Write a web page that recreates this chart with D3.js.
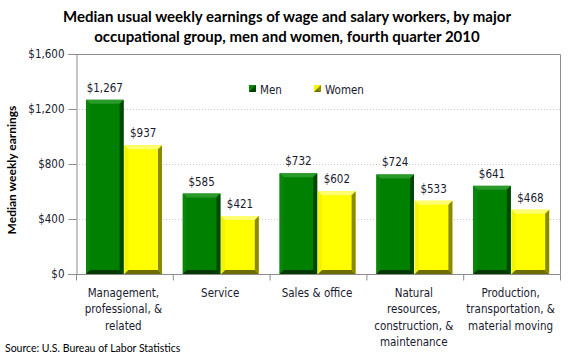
<!DOCTYPE html>
<html><head><meta charset="utf-8">
<script src="https://cdn.jsdelivr.net/npm/d3@7"></script>
<style>body{margin:0;background:#fff}svg{display:block}</style>
</head><body>
<svg id="c" width="580" height="360"></svg>
<script>
const categories = [
  ["Management,", "professional, &", "related"],
  ["Service"],
  ["Sales & office"],
  ["Natural", "resources,", "construction, &", "maintenance"],
  ["Production,", "transportation, &", "material moving"]
];
const seriesNames = ["Men", "Women"];
const men = [1267, 585, 732, 724, 641];
const women = [937, 421, 602, 533, 468];
const yTicks = [0, 400, 800, 1200, 1600];

const svg = d3.select("#c");
const L = 76, R = 560, T = 54, B = 274;
const x = d3.scaleBand().domain(d3.range(categories.length)).range([L, R]).paddingInner(0).paddingOuter(0);
const y = d3.scaleLinear().domain([0, 1600]).range([B, T]);
const bandInner = d3.scaleBand().domain([0, 1]).range([0, x.bandwidth()]).paddingInner(0.0).paddingOuter(0.26);
const fmt = v => "$" + d3.format(",")(v);
const labelFont = "'DejaVu Sans Condensed', 'DejaVu Sans', sans-serif";
const titleFont = "Lato, 'Open Sans', sans-serif";

// title
svg.append("text").attr("x", 287).attr("y", 22).attr("text-anchor", "middle")
  .attr("font-family", titleFont).attr("font-weight", "bold").attr("font-size", 15).attr("fill", "#000")
  .text("Median usual weekly earnings of wage and salary workers, by major");
svg.append("text").attr("x", 287).attr("y", 42).attr("text-anchor", "middle")
  .attr("font-family", titleFont).attr("font-weight", "bold").attr("font-size", 15).attr("fill", "#000")
  .text("occupational group, men and women, fourth quarter 2010");

// gridlines
svg.append("g").selectAll("line").data(yTicks.filter(d => d > 0 && d < 1600)).join("line")
  .attr("x1", L).attr("x2", R).attr("y1", d => y(d) + 0.5).attr("y2", d => y(d) + 0.5)
  .attr("stroke", "#c8c8c8").attr("stroke-dasharray", "1,2");

// frame top/right
svg.append("path").attr("d", `M${L},${T + 0.5}H${R + 0.5}V${B}`).attr("fill", "none").attr("stroke", "#8c8c8c");

// y axis
const yAxis = d3.axisLeft(y).tickValues(yTicks).tickFormat(fmt).tickSize(8).tickPadding(4);
const gy = svg.append("g").attr("transform", `translate(${L + 0.5},0)`).call(yAxis);
gy.select(".domain").attr("stroke", "#8c8c8c");
gy.selectAll(".tick line").attr("stroke", "#8c8c8c");
gy.selectAll("text").attr("font-family", labelFont).attr("font-size", 11.5).attr("fill", "#1a1a2e");

// x axis
const gx = svg.append("g").attr("transform", `translate(0,${B + 0.5})`);
gx.append("line").attr("x1", L - 8).attr("x2", R + 0.5).attr("stroke", "#8c8c8c");
gx.selectAll(".tk").data(d3.range(categories.length + 1)).join("line")
  .attr("x1", i => (i < categories.length ? x(i) : R) + 0.5).attr("x2", i => (i < categories.length ? x(i) : R) + 0.5)
  .attr("y1", 0).attr("y2", 6).attr("stroke", "#8c8c8c");
categories.forEach((lines, i) => {
  const t = svg.append("text").attr("text-anchor", "middle")
    .attr("font-family", labelFont).attr("font-size", 11.5).attr("fill", "#1a1a2e");
  lines.forEach((ln, j) => t.append("tspan").attr("x", x(i) + x.bandwidth() / 2 - 1).attr("y", 297 + j * 16.3).text(ln));
});

// y axis title
svg.append("text").attr("transform", `translate(16,${(T + B) / 2 + 6}) rotate(-90)`).attr("text-anchor", "middle")
  .attr("font-family", titleFont).attr("font-weight", "bold").attr("font-size", 12).attr("fill", "#000")
  .text("Median weekly earnings");

// bars with bevel
const palettes = [
  {face: "#008000", top: "#2a9a2a", left: "#0a850a", right: "#004800", bottom: "#003a00"},
  {face: "#ffff00", top: "#ffff70", left: "#f4f400", right: "#8a8a00", bottom: "#6e6e00"}
];
function bevelBar(g, x0, y0, w, h, p) {
  const b = Math.min(4, h / 2);
  g.append("rect").attr("x", x0).attr("y", y0).attr("width", w).attr("height", h).attr("fill", p.face);
  g.append("path").attr("d", `M${x0},${y0}H${x0 + w}L${x0 + w - b},${y0 + b}H${x0 + b}Z`).attr("fill", p.top);
  g.append("path").attr("d", `M${x0},${y0}L${x0 + b},${y0 + b}V${y0 + h - b}L${x0},${y0 + h}Z`).attr("fill", p.left);
  g.append("path").attr("d", `M${x0 + w},${y0}V${y0 + h}L${x0 + w - b},${y0 + h - b}V${y0 + b}Z`).attr("fill", p.right);
  g.append("path").attr("d", `M${x0},${y0 + h}H${x0 + w}L${x0 + w - b},${y0 + h - b}H${x0 + b}Z`).attr("fill", p.bottom);
}
const data = [men, women];
const gb = svg.append("g");
data.forEach((vals, s) => {
  vals.forEach((v, i) => {
    const bx = x(i) + bandInner(s);
    const bw = bandInner.bandwidth() - 0.8;
    bevelBar(gb, bx, y(v), bw, B - y(v), palettes[s]);
    svg.append("text").attr("x", bx + bw / 2).attr("y", y(v) - 8).attr("text-anchor", "middle")
      .attr("font-family", labelFont).attr("font-size", 11.5).attr("fill", "#1a1a2e").text(fmt(v));
  });
});

// legend
const legX = [249, 314];
seriesNames.forEach((n, s) => {
  const lg = svg.append("g");
  bevelBar(lg, legX[s], 85, 7, 7, {face: palettes[s].face, top: palettes[s].left, left: palettes[s].left, right: palettes[s].right, bottom: palettes[s].bottom});
  svg.append("text").attr("x", legX[s] + 11).attr("y", 94).attr("font-family", labelFont)
    .attr("font-size", 11.5).attr("fill", "#1a1a2e").text(n);
});

// source
svg.append("text").attr("x", 5).attr("y", 352).attr("font-family", titleFont).attr("font-size", 10.5)
  .attr("fill", "#000").text("Source: U.S. Bureau of Labor Statistics");
</script>
</body></html>
